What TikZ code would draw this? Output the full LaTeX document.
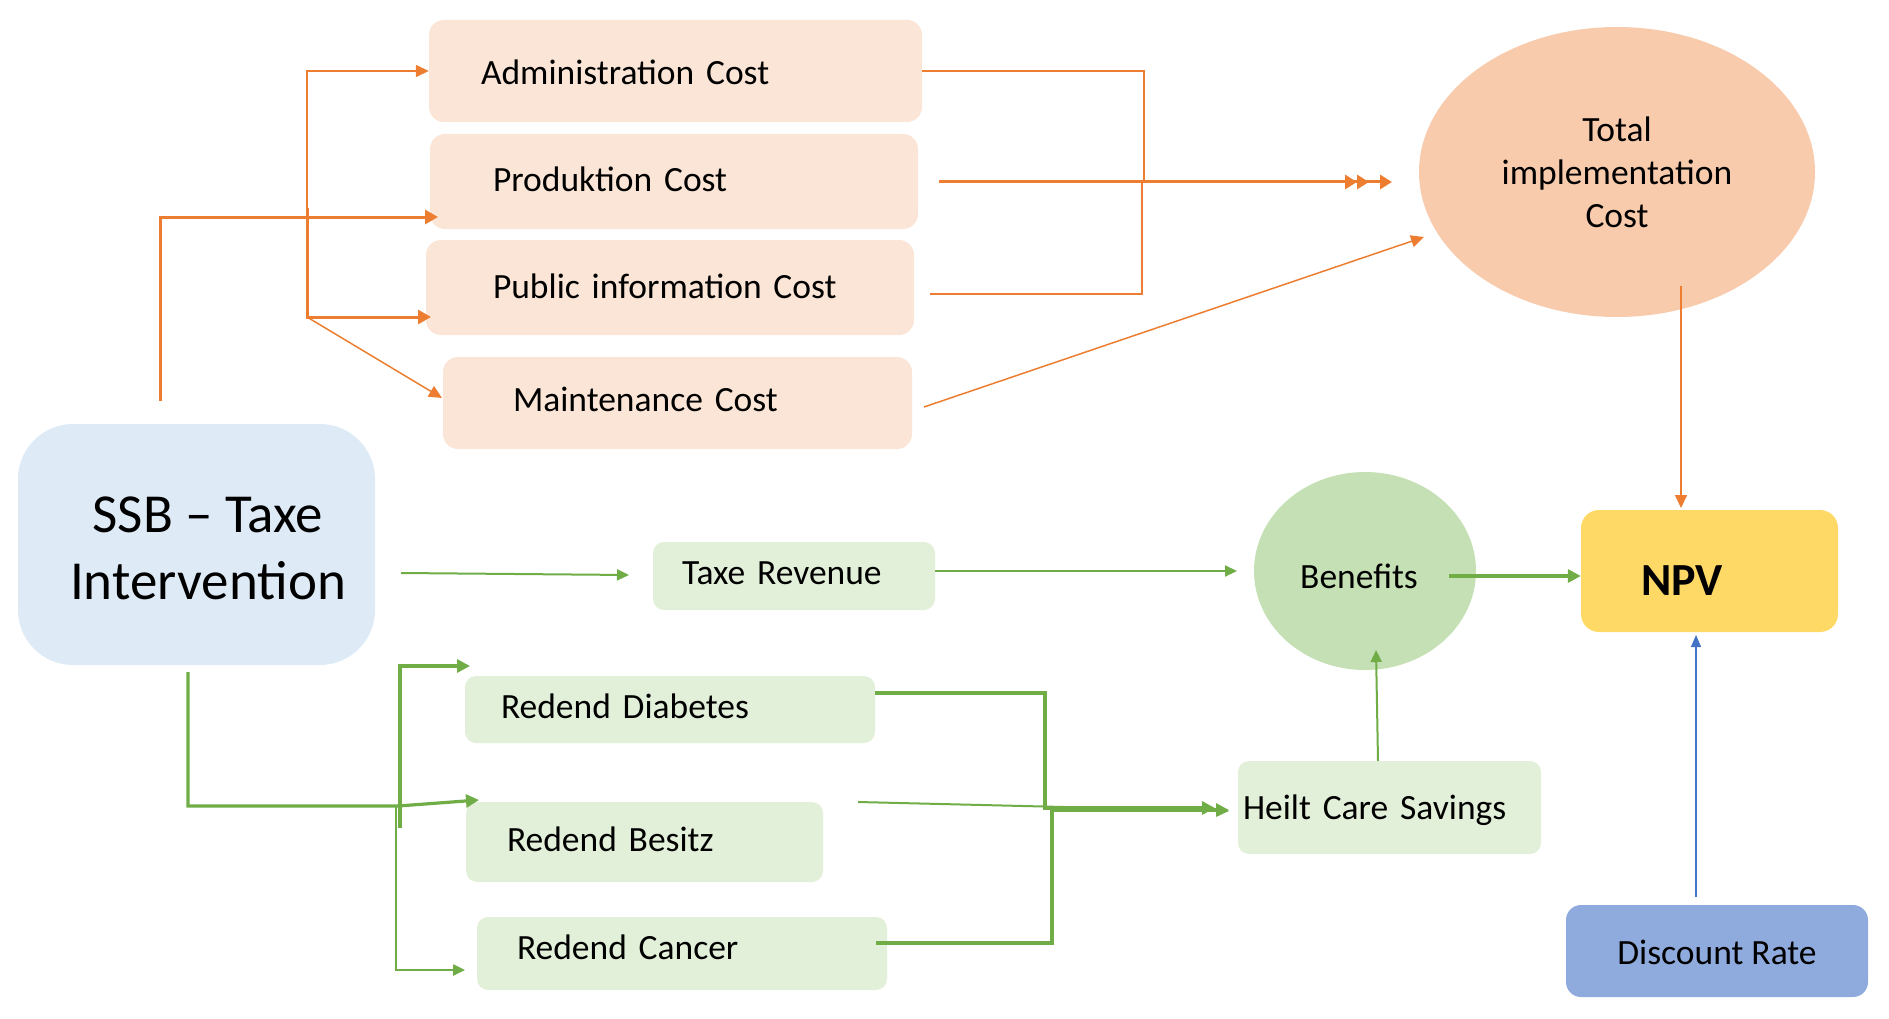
\documentclass[tikz,border=0pt]{standalone}
\usepackage{fontspec}
\setmainfont{Carlito}
\usetikzlibrary{arrows.meta,shapes.geometric}
\definecolor{orl}{HTML}{ED7D31}
\definecolor{grl}{HTML}{70AD47}
\definecolor{bll}{HTML}{4472C4}
\definecolor{orbox}{HTML}{FBE5D6}
\definecolor{orell}{HTML}{F8CBAD}
\definecolor{ssbfill}{HTML}{DEEBF7}
\definecolor{grbox}{HTML}{E2F0D9}
\definecolor{grell}{HTML}{C5E0B4}
\definecolor{npvfill}{HTML}{FFD966}
\definecolor{discfill}{HTML}{8FAADC}
% baseline placed #1 below the node centre
\newcommand{\bl}[2]{\raisebox{-#1}[0pt][0pt]{#2}}
\begin{document}
\begin{tikzpicture}[x=1pt,y=-1pt,
  every node/.style={font=\fontsize{35.5}{43}\selectfont, text=black},
  obox/.style={fill=orbox, rounded corners=15pt, inner ysep=0pt, align=left},
  gbox/.style={fill=grbox, rounded corners=11pt, inner ysep=0pt, align=left},
  ao/.style={draw=orl, line width=1.5pt, -{Triangle[length=13pt,width=12pt]}},
  aoM/.style={draw=orl, line width=3pt, -{Triangle[length=13pt,width=14pt]}},
  lo/.style={draw=orl, line width=1.5pt},
  ag/.style={draw=grl, line width=2pt, -{Triangle[length=12pt,width=11pt]}},
  agT/.style={draw=grl, line width=3.2pt, -{Triangle[length=13pt,width=13pt]}},
  ab/.style={draw=bll, line width=1.2pt, -{Triangle[length=12pt,width=10pt]}}
]
\useasboundingbox (0,0) rectangle (1889,1019);

% orange cost boxes
\node[obox, minimum width=493pt, minimum height=102pt, inner xsep=52pt, text width=389pt] (admin) at (675.5,71) {\bl{13.5pt}{Administration Cost}};
\node[obox, minimum width=488pt, minimum height=95pt, inner xsep=63pt, text width=362pt] (prod) at (674,181.5) {\bl{10.5pt}{Produktion Cost}};
\node[obox, minimum width=488pt, minimum height=95pt, inner xsep=67pt, text width=354pt] (pub) at (670,287.5) {\bl{10.5pt}{Public information Cost}};
\node[obox, minimum width=469pt, minimum height=92pt, inner xsep=70pt, text width=329pt] (maint) at (677.5,403) {\bl{8.3pt}{Maintenance Cost}};

% total implementation cost
\node[ellipse, fill=orell, minimum width=396pt, minimum height=290pt, inner sep=0pt, align=center] (total) at (1617,172) {Total\\implementation\\Cost};

% SSB
\node[fill=ssbfill, rounded corners=55pt, minimum width=357pt, minimum height=241pt, inner sep=0pt,
  label={[name=ssbtext, align=center, font=\fontsize{55}{67}\selectfont, xshift=11.5pt, yshift=-3.6pt]center:SSB – Taxe\\Intervention}] (ssb) at (196.5,544.5) {};

% green boxes
\node[gbox, minimum width=282pt, minimum height=68pt, inner xsep=29pt, text width=224pt] (taxe) at (794,576) {\bl{8.7pt}{Taxe Revenue}};
\node[gbox, minimum width=410pt, minimum height=67pt, inner xsep=36pt, text width=338pt] (diab) at (670,709.5) {\bl{9pt}{Redend Diabetes}};
\node[gbox, minimum width=357pt, minimum height=80pt, inner xsep=41pt, text width=275pt] (besitz) at (644.5,842) {\bl{9pt}{Redend Besitz}};
\node[gbox, minimum width=410pt, minimum height=73pt, inner xsep=40pt, text width=330pt] (cancer) at (682,953.5) {\bl{6pt}{Redend Cancer}};
\node[gbox, minimum width=303pt, minimum height=93pt, inner xsep=5pt, text width=293pt] (heilt) at (1389.5,807.5) {\bl{12pt}{Heilt Care Savings}};

% benefits
\node[ellipse, fill=grell, minimum width=222pt, minimum height=198pt, inner sep=0pt] (ben) at (1365,571) {\bl{17pt}{\hspace*{-12pt}Benefits}};

% NPV
\node[fill=npvfill, rounded corners=18pt, minimum width=257pt, minimum height=122pt, inner xsep=60pt, inner ysep=0pt, text width=137pt, align=left, font=\fontsize{46}{55}\selectfont\bfseries] (npv) at (1709.5,571) {\bl{24pt}{NPV}};

% discount rate
\node[fill=discfill, rounded corners=15pt, minimum width=302pt, minimum height=92pt, inner sep=0pt, align=center] (disc) at (1717,951) {\bl{13pt}{Discount Rate}};

% ---- orange connectors
\draw[aoM] (160,401) -- (160,217) -- (438,217);
\draw[ao] (307,208) -- (307,71) -- (admin.west);
\draw[aoM] (307,208) -- (307,317) -- (431,317);
\draw[ao] (307,317) -- (442,398);
\draw[lo] (admin.east) -- (1144,71) -- (1144,182);
\draw[lo, line width=2pt] (930,294) -- (1142,294) -- (1142,182);
\draw[draw=orl, line width=3pt, -{Triangle[length=12pt,width=14pt,sep=0pt] Triangle[length=12pt,width=14pt,sep=11pt] Triangle[length=12pt,width=14pt]}] (939,182) -- (1392,182);
\draw[ao] (924,407) -- (1424,237);
\draw[ao] (1681,286) -- (1681,508);

% ---- green connectors
\draw[ag] (401,573) -- (629,575);
\draw[ag] (935,571) -- (1237,571);
\draw[agT] (1449,576) -- (npv.west |- 0,576);
\draw[ag] (1378,761) -- (1376,650);
\draw[ab] (1696,897) -- (1696,635);
\draw[agT] (188,672) -- (188,806) -- (398,806) -- (479,800);
\draw[agT] (400,828) -- (400,666) -- (470,666);
\draw[ag, line width=2.5pt] (396,806) -- (396,970) -- (465,970);
\draw[agT] (875,693) -- (1045,693) -- (1045,808) -- (1215,808);
\draw[ag] (858,802) -- (1229,811);
\draw[agT] (876,943) -- (1052,943) -- (1052,810) -- (1229,810);
\end{tikzpicture}
\end{document}
